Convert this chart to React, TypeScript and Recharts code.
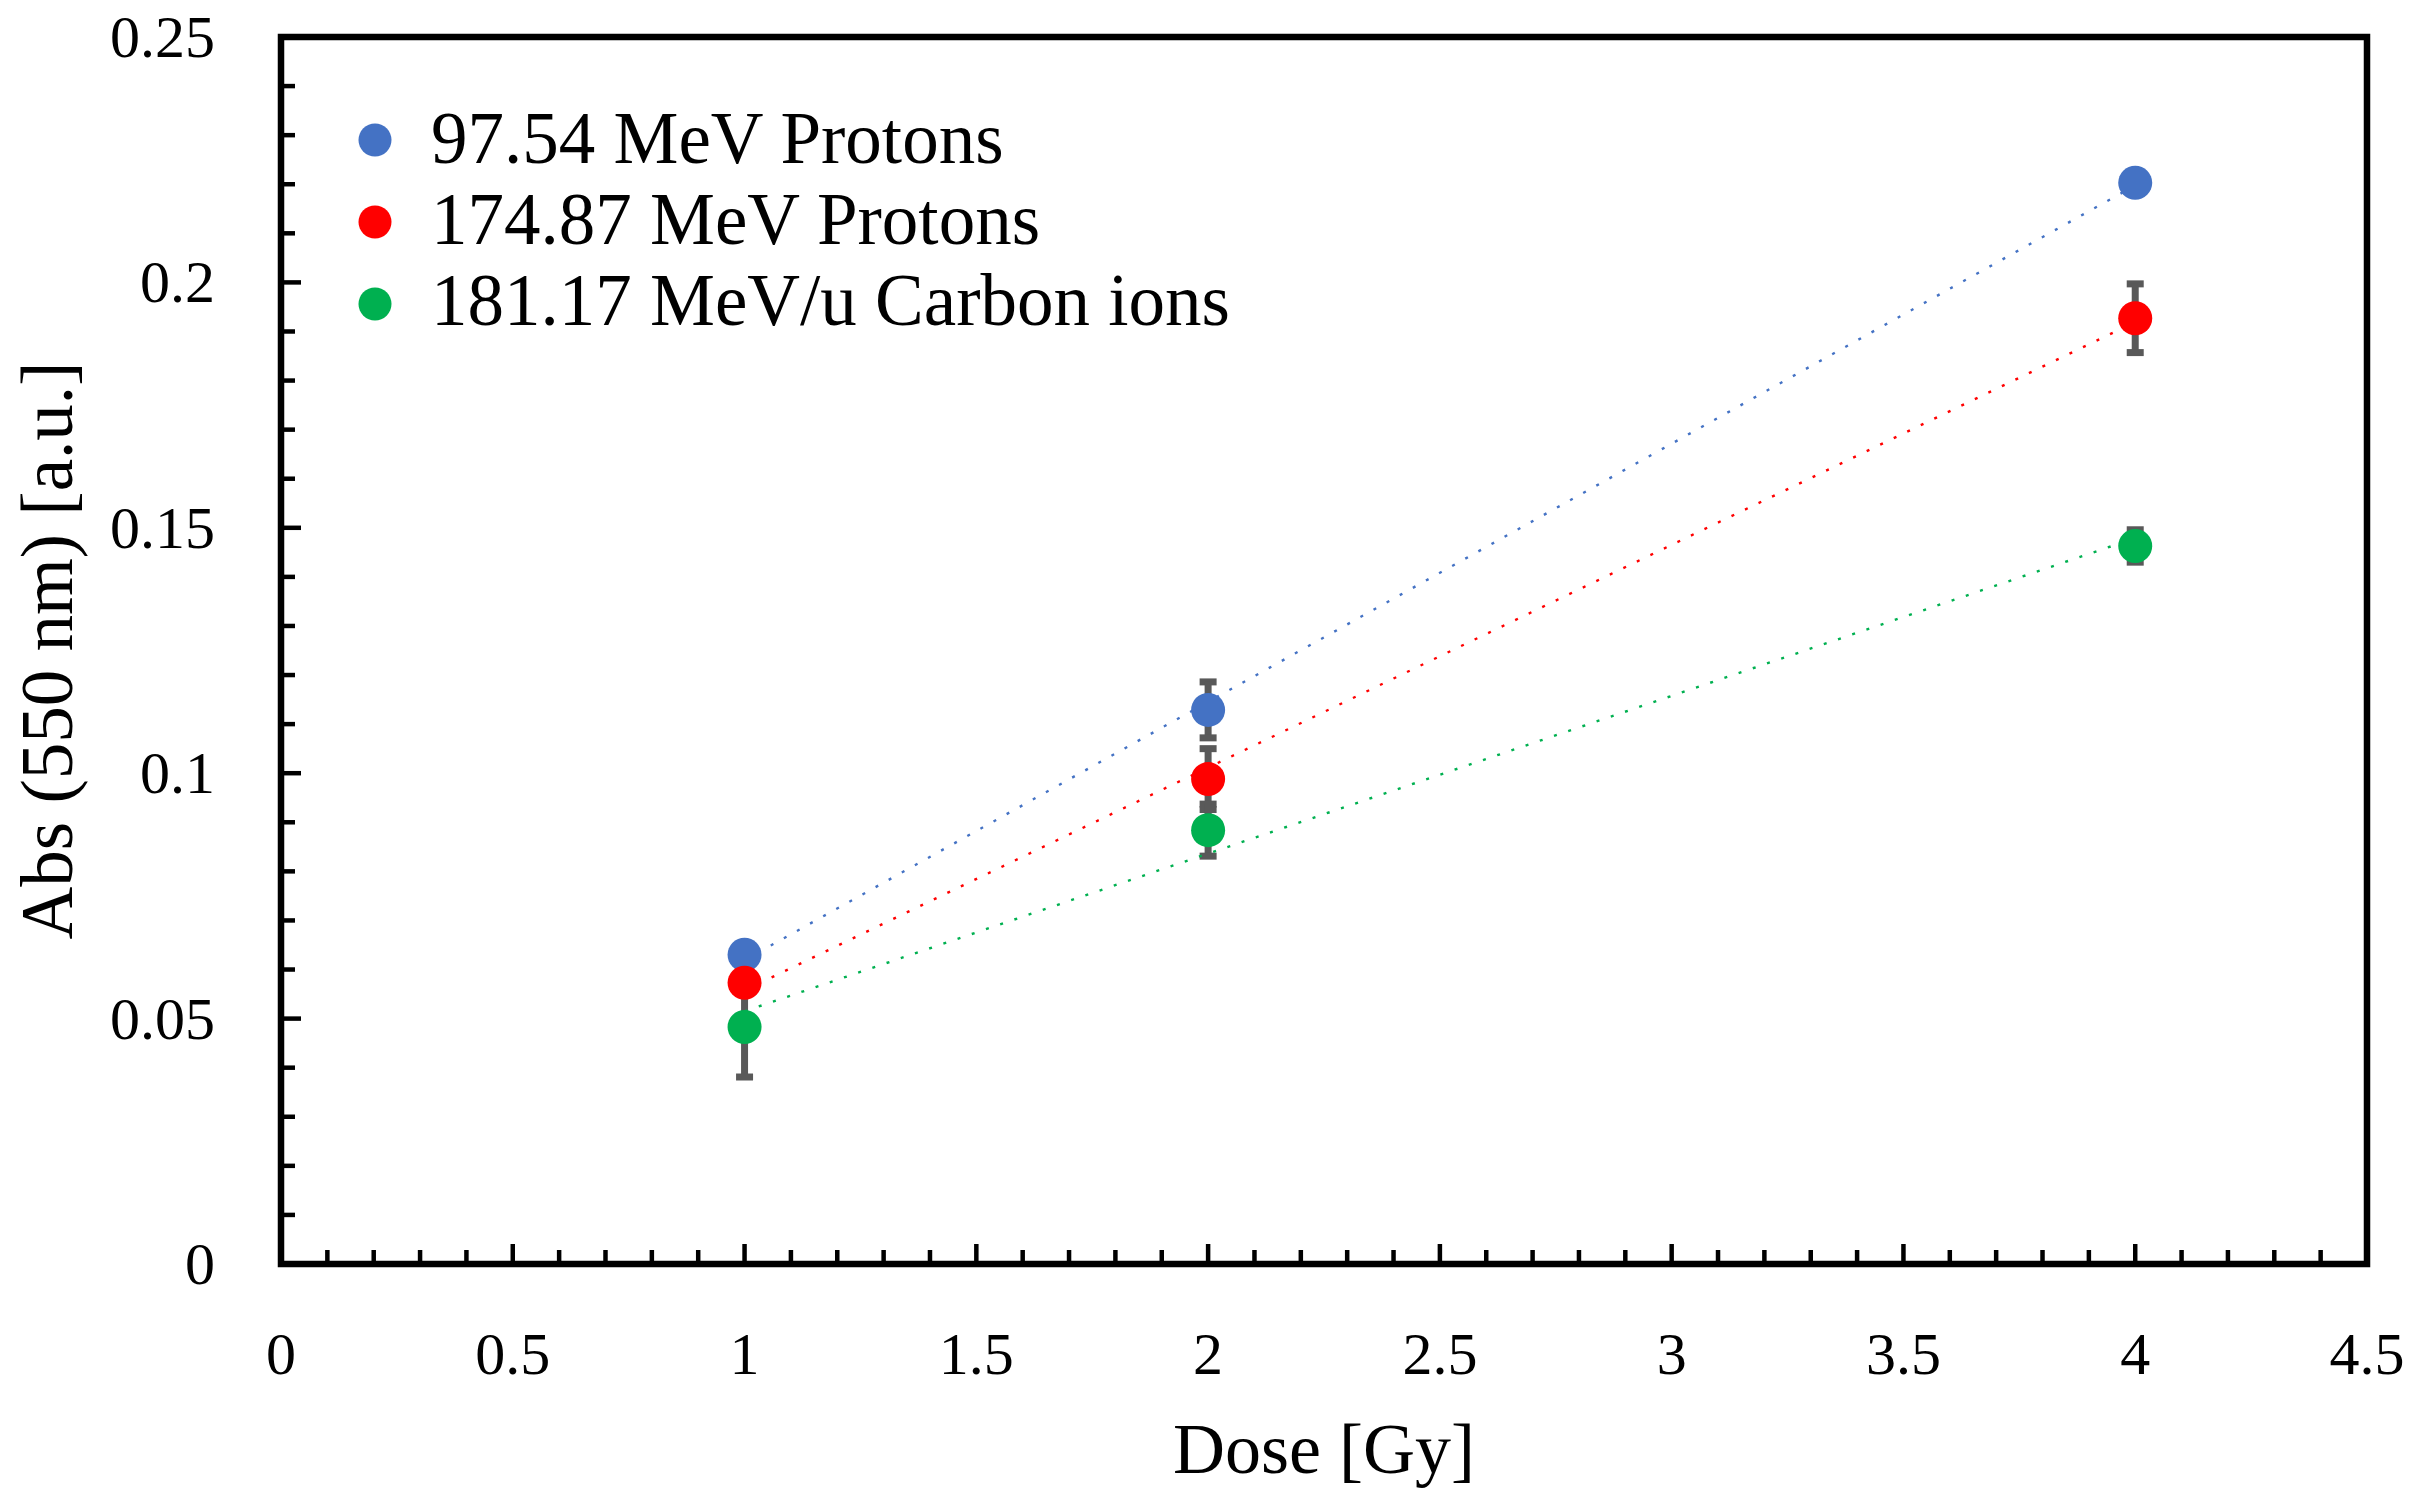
import React from 'react'
import { ScatterChart, Scatter, XAxis, YAxis, ErrorBar, ReferenceArea, Legend } from 'recharts'

// dose values (Gy) shared by all three series
const DOSES = [1, 2, 4]

const ABS_P97 = [0.063, 0.1129, 0.2203]
const ERR_P97 = [0.002, 0.0057, 0.002]

const ABS_P174 = [0.0573, 0.0988, 0.1927]
const ERR_P174 = [0.002, 0.0062, 0.007]

const ABS_C181 = [0.0483, 0.0884, 0.1463]
const ERR_C181 = [0.0102, 0.0053, 0.0033]

const SERIES_NAMES = ['97.54 MeV Protons', '174.87 MeV Protons', '181.17 MeV/u Carbon ions']
const SERIES_COLORS = ['#4472C4', '#FF0000', '#00B050']

const X_MAJOR = [0, 0.5, 1, 1.5, 2, 2.5, 3, 3.5, 4, 4.5]
const Y_MAJOR = [0, 0.05, 0.1, 0.15, 0.2, 0.25]

const FONT = '"Liberation Serif", "Times New Roman", serif'
const ERR_COLOR = '#595959'

// 4 minor ticks between each pair of major ticks
function withMinor(major: number[]) {
  const out: number[] = []
  for (let i = 0; i < major.length - 1; i++) {
    const a = major[i]
    const b = major[i + 1]
    for (let k = 0; k < 5; k++) out.push(+(a + (k * (b - a)) / 5).toFixed(4))
  }
  out.push(major[major.length - 1])
  return out
}

const X_TICKS = withMinor(X_MAJOR)
const Y_TICKS = withMinor(Y_MAJOR)

const isMajor = (list: number[], v: number) => list.some(m => Math.abs(m - v) < 1e-9)

const toPoints = (ys: number[], errs: number[]) =>
  DOSES.map((x, i) => ({ x, y: ys[i], err: errs[i] }))

const seriesData = [
  toPoints(ABS_P97, ERR_P97),
  toPoints(ABS_P174, ERR_P174),
  toPoints(ABS_C181, ERR_C181),
]

function XTick(props: any) {
  const { x, y, payload } = props
  const major = isMajor(X_MAJOR, payload.value)
  return (
    <g>
      <line x1={x} y1={y} x2={x} y2={y - (major ? 20 : 14)} stroke="#000" strokeWidth={4.5} />
      {major && (
        <text x={x} y={y + 110} textAnchor="middle" fontSize={60} fontFamily={FONT} fill="#000">
          {String(payload.value)}
        </text>
      )}
    </g>
  )
}

function YTick(props: any) {
  const { x, y, payload } = props
  const major = isMajor(Y_MAJOR, payload.value)
  return (
    <g>
      <line x1={x} y1={y} x2={x + (major ? 20 : 14)} y2={y} stroke="#000" strokeWidth={4.5} />
      {major && (
        <text x={x - 66} y={y + 20} textAnchor="end" fontSize={60} fontFamily={FONT} fill="#000">
          {String(payload.value)}
        </text>
      )}
    </g>
  )
}

function LegendBox() {
  return (
    <svg width={900} height={260} style={{ display: 'block' }}>
      {SERIES_NAMES.map((name, i) => (
        <g key={name}>
          <circle cx={27} cy={42 + i * 82} r={16.5} fill={SERIES_COLORS[i]} />
          <text x={83} y={65 + i * 81} fontSize={73} fontFamily={FONT} fill="#000">
            {name}
          </text>
        </g>
      ))}
    </svg>
  )
}

export default function App() {
  return (
    <div style={{ width: 2400, height: 1482 }}>
      <style>{'.recharts-surface { overflow: visible; }'}</style>
      <ScatterChart width={2400} height={1482} margin={{ top: 29, right: 41, bottom: 0, left: 0 }}>
        <XAxis
          type="number"
          dataKey="x"
          domain={[0, 4.5]}
          ticks={X_TICKS}
          interval={0}
          height={226}
          axisLine={false}
          tickLine={false}
          tickSize={0}
          tickMargin={0}
          tick={<XTick />}
          label={{
            value: 'Dose [Gy]',
            position: 'insideBottom',
            offset: 17,
            style: { fontSize: 72, fontFamily: FONT, fill: '#000' },
          }}
        />
        <YAxis
          type="number"
          dataKey="y"
          domain={[0, 0.25]}
          ticks={Y_TICKS}
          interval={0}
          width={273}
          axisLine={false}
          tickLine={false}
          tickSize={0}
          tickMargin={0}
          tick={<YTick />}
          label={{
            value: 'Abs (550 nm) [a.u.]',
            angle: -90,
            position: 'insideLeft',
            offset: 38,
            style: { fontSize: 73, fontFamily: FONT, fill: '#000', textAnchor: 'middle' },
          }}
        />
        <Legend
          layout="vertical"
          align="center"
          verticalAlign="middle"
          wrapperStyle={{ left: 340, top: 90, width: 900, height: 260 }}
          content={() => <LegendBox />}
        />

        {/* dotted linear trendlines */}
        {seriesData.map((data, i) => (
          <Scatter
            key={`trend-${i}`}
            data={data}
            legendType="none"
            line={{ stroke: SERIES_COLORS[i], strokeWidth: 2.4, strokeDasharray: '3 12' }}
            lineType="fitting"
            shape={() => <g />}
            isAnimationActive={false}
          />
        ))}

        {seriesData.map((data, i) => (
          <Scatter
            key={`pts-${i}`}
            name={SERIES_NAMES[i]}
            data={data}
            fill={SERIES_COLORS[i]}
            shape={(p: any) => <circle cx={p.cx} cy={p.cy} r={17} fill={SERIES_COLORS[i]} />}
            isAnimationActive={false}
          >
            <ErrorBar dataKey="err" direction="y" width={8.5} strokeWidth={7} stroke={ERR_COLOR} />
          </Scatter>
        ))}

        <ReferenceArea
          x1={0}
          x2={4.5}
          y1={0}
          y2={0.25}
          fill="none"
          stroke="#000"
          strokeWidth={6.5}
          ifOverflow="visible"
        />
      </ScatterChart>
    </div>
  )
}
